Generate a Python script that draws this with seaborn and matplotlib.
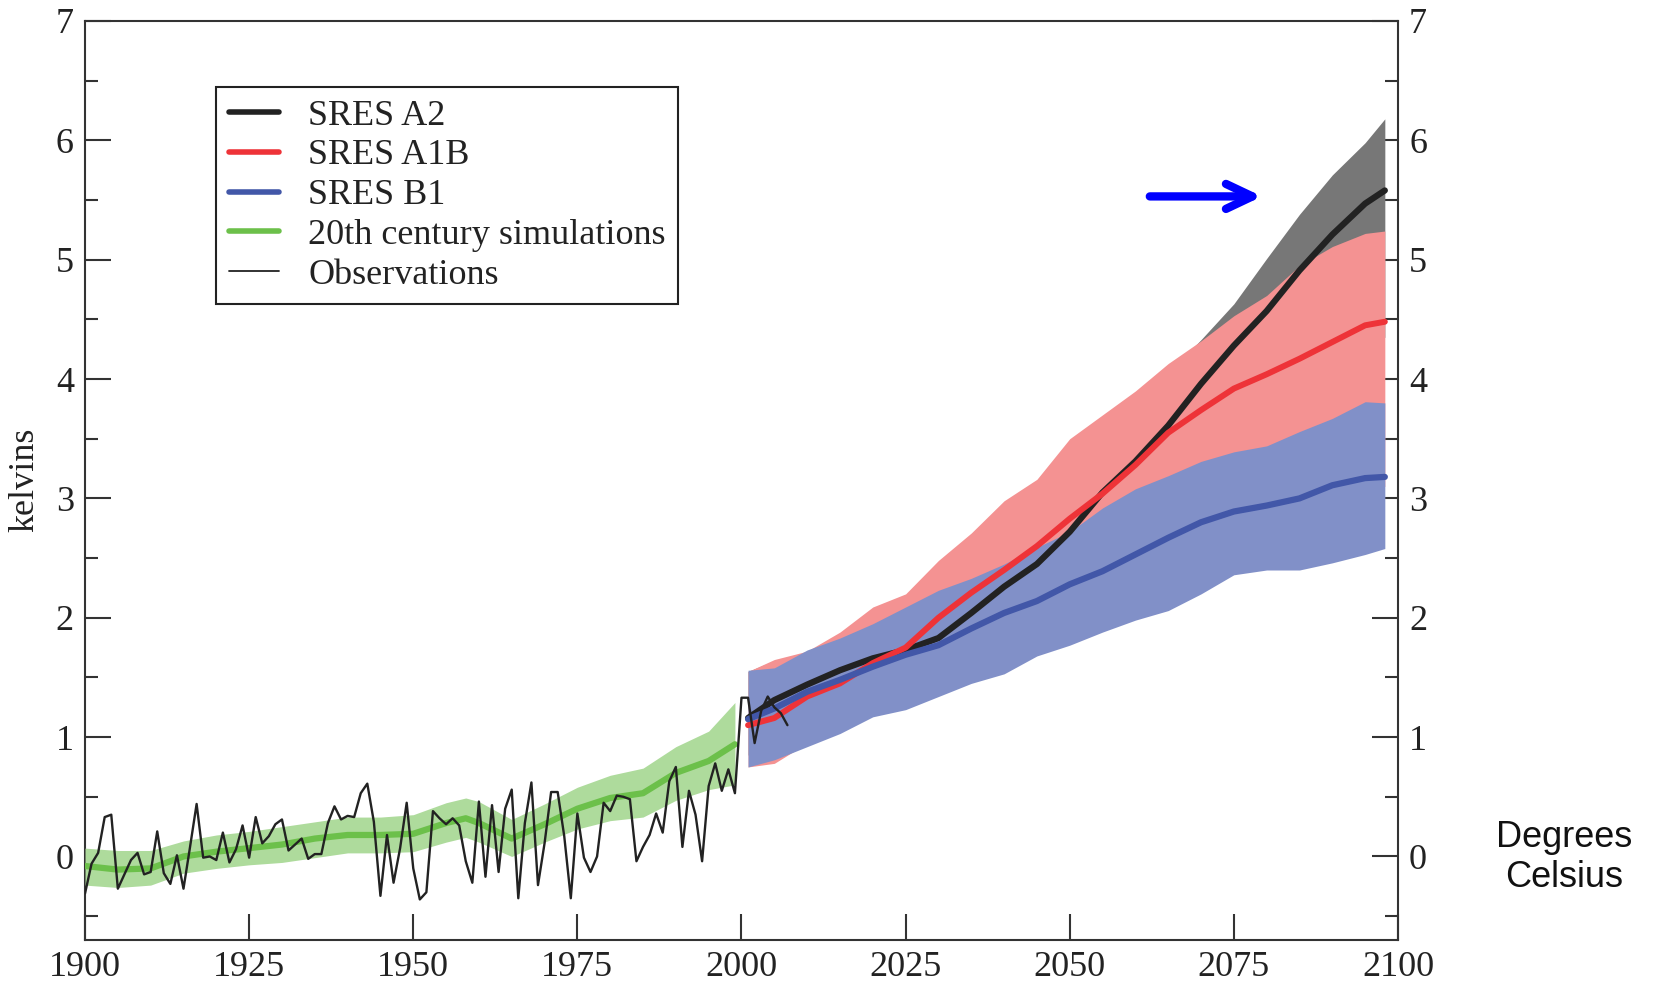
import matplotlib.pyplot as plt
import seaborn as sns
from matplotlib.lines import Line2D
from matplotlib.ticker import MultipleLocator

# observations, annual anomalies (kelvins)
obs_years = list(range(1900, 2008))
obs_values = [
    -0.31, -0.06, 0.03, 0.33, 0.35, -0.27, -0.15, -0.03, 0.03, -0.15,
    -0.13, 0.21, -0.14, -0.23, 0.01, -0.27, 0.08, 0.44, -0.01, 0.00,
    -0.03, 0.20, -0.05, 0.06, 0.26, -0.01, 0.33, 0.11, 0.17, 0.27,
    0.31, 0.05, 0.10, 0.15, -0.02, 0.02, 0.02, 0.28, 0.42, 0.31,
    0.34, 0.33, 0.53, 0.61, 0.29, -0.33, 0.18, -0.22, 0.07, 0.45,
    -0.10, -0.36, -0.30, 0.38, 0.32, 0.27, 0.32, 0.26, -0.04, -0.22,
    0.46, -0.17, 0.43, -0.13, 0.40, 0.56, -0.35, 0.28, 0.62, -0.24,
    0.11, 0.54, 0.54, 0.17, -0.35, 0.36, -0.01, -0.13, 0.00, 0.45,
    0.38, 0.51, 0.50, 0.48, -0.04, 0.08, 0.18, 0.36, 0.20, 0.63,
    0.75, 0.08, 0.55, 0.35, -0.04, 0.59, 0.78, 0.55, 0.73, 0.53,
    1.33, 1.33, 0.95, 1.22, 1.34, 1.25, 1.20, 1.10,
]

# 20th century simulations
sim_years = [1900, 1905, 1910, 1915, 1920, 1925, 1930, 1935, 1940, 1945, 1950,
             1955, 1958, 1960, 1965, 1970, 1975, 1980, 1985, 1990, 1995, 1999]
sim_mean = [-0.08, -0.11, -0.10, 0.00, 0.04, 0.07, 0.10, 0.15, 0.18, 0.18, 0.19,
            0.28, 0.32, 0.28, 0.15, 0.27, 0.40, 0.49, 0.53, 0.70, 0.80, 0.94]
sim_hi = [0.07, 0.05, 0.05, 0.13, 0.18, 0.21, 0.25, 0.29, 0.33, 0.33, 0.35,
          0.45, 0.49, 0.46, 0.31, 0.44, 0.58, 0.68, 0.74, 0.92, 1.05, 1.29]
sim_lo = [-0.24, -0.26, -0.24, -0.14, -0.10, -0.07, -0.05, -0.01, 0.03, 0.03, 0.04,
          0.12, 0.16, 0.12, 0.00, 0.12, 0.23, 0.30, 0.33, 0.47, 0.56, 0.60]

# SRES scenarios
fut_years = [2001, 2005, 2010, 2015, 2020, 2025, 2030, 2035, 2040, 2045, 2050,
             2055, 2060, 2065, 2070, 2075, 2080, 2085, 2090, 2095, 2098]
a2_mean = [1.16, 1.31, 1.44, 1.56, 1.66, 1.73, 1.83, 2.04, 2.26, 2.45, 2.72,
           3.05, 3.31, 3.61, 3.96, 4.28, 4.57, 4.91, 5.21, 5.47, 5.58]
a2_hi = [1.55, 1.64, 1.70, 1.80, 1.95, 2.10, 2.30, 2.50, 2.75, 3.00, 3.30,
         3.55, 3.80, 4.05, 4.33, 4.63, 5.01, 5.38, 5.71, 5.98, 6.18]
a2_lo = [0.85, 0.90, 1.00, 1.10, 1.20, 1.30, 1.40, 1.55, 1.70, 1.85, 2.05,
         2.30, 2.55, 2.80, 3.05, 3.30, 3.55, 3.80, 4.05, 4.25, 4.35]
a1b_mean = [1.10, 1.16, 1.34, 1.45, 1.62, 1.75, 2.00, 2.21, 2.40, 2.60, 2.83,
            3.04, 3.28, 3.55, 3.74, 3.92, 4.04, 4.17, 4.31, 4.45, 4.48]
a1b_hi = [1.55, 1.65, 1.72, 1.88, 2.09, 2.20, 2.48, 2.71, 2.98, 3.16, 3.50,
          3.70, 3.90, 4.13, 4.32, 4.53, 4.70, 4.95, 5.11, 5.22, 5.24]
a1b_lo = [0.75, 0.78, 0.95, 1.12, 1.25, 1.35, 1.50, 1.62, 1.78, 1.90, 2.05,
          2.20, 2.35, 2.50, 2.62, 2.75, 2.82, 2.90, 3.00, 3.08, 3.10]
b1_mean = [1.15, 1.24, 1.38, 1.48, 1.59, 1.69, 1.77, 1.91, 2.04, 2.14, 2.28,
           2.39, 2.53, 2.67, 2.80, 2.89, 2.94, 3.00, 3.11, 3.17, 3.18]
b1_hi = [1.56, 1.58, 1.73, 1.83, 1.95, 2.09, 2.23, 2.33, 2.45, 2.59, 2.72,
         2.92, 3.08, 3.19, 3.31, 3.39, 3.44, 3.56, 3.67, 3.81, 3.80]
b1_lo = [0.75, 0.81, 0.92, 1.03, 1.17, 1.23, 1.34, 1.45, 1.53, 1.68, 1.77,
         1.88, 1.98, 2.06, 2.20, 2.36, 2.40, 2.40, 2.46, 2.53, 2.58]

labels = ["SRES A2", "SRES A1B", "SRES B1", "20th century simulations", "Observations"]

C_A2, C_A1B, C_B1, C_SIM, C_OBS = "#222222", "#ee3338", "#4257a8", "#6cc04a", "#222222"

sns.set_theme(style="ticks")
plt.rcParams["font.family"] = ["Liberation Serif", "DejaVu Serif"]
plt.rcParams["font.size"] = 26

fig = plt.figure(figsize=(16.54, 9.84), dpi=100)
ax = fig.add_axes([0.0514, 0.0447, 0.7938, 0.934])

# uncertainty bands (opaque, stacked like the original)
ax.fill_between(fut_years, a2_lo, a2_hi, color="#777777", lw=0, zorder=1)
ax.fill_between(fut_years, a1b_lo, a1b_hi, color="#f49292", lw=0, zorder=2)
ax.fill_between(fut_years, b1_lo, b1_hi, color="#8190c8", lw=0, zorder=3)
ax.fill_between(sim_years, sim_lo, sim_hi, color="#aedb9c", lw=0, zorder=3)

sns.lineplot(x=sim_years, y=sim_mean, color=C_SIM, lw=4.5, ax=ax, zorder=4)
sns.lineplot(x=fut_years, y=a2_mean, color=C_A2, lw=4.5, ax=ax, zorder=5)
sns.lineplot(x=fut_years, y=a1b_mean, color=C_A1B, lw=4.3, ax=ax, zorder=6)
sns.lineplot(x=fut_years, y=b1_mean, color=C_B1, lw=4.5, ax=ax, zorder=7)
sns.lineplot(x=obs_years, y=obs_values, color=C_OBS, lw=1.7, ax=ax, zorder=8)

ax.annotate("", xy=(2079.3, 5.53), xytext=(2062.2, 5.53), zorder=9,
            arrowprops=dict(arrowstyle="->,head_length=0.95,head_width=0.45",
                            color="#0000ff", lw=6, shrinkA=0, shrinkB=0,
                            mutation_scale=20, capstyle="round", joinstyle="round"))

ax.set_xlim(1900, 2100)
ax.set_ylim(-0.7, 7)
ax.set_xticks(range(1900, 2101, 25))
ax.set_yticks(range(0, 8))
ax.yaxis.set_minor_locator(MultipleLocator(0.5))
ax.tick_params(which="both", direction="in", color="#333333", width=1.5, labelcolor="#222222", labelsize=26)
ax.tick_params(axis="y", which="both", left=True, right=True, labelleft=True, labelright=True, pad=8)
ax.tick_params(axis="x", top=False, pad=8)
ax.tick_params(which="major", length=19)
ax.tick_params(which="minor", length=9.5)
for s in ax.spines.values():
    s.set_color("#333333")
    s.set_linewidth(1.5)

ax.set_xlabel("")
ax.set_ylabel("kelvins", fontsize=26, color="#222222")
ax.yaxis.set_label_coords(-0.033, 0.5005)

handles = [
    Line2D([], [], color=C_A2, lw=4),
    Line2D([], [], color=C_A1B, lw=4),
    Line2D([], [], color=C_B1, lw=4),
    Line2D([], [], color=C_SIM, lw=4),
    Line2D([], [], color=C_OBS, lw=1.3),
]
leg = ax.legend(handles, labels, loc="upper left", bbox_to_anchor=(0.0998, 0.9285),
                borderaxespad=0, frameon=True, fancybox=False, framealpha=1,
                edgecolor="#222222", handlelength=1.4, handletextpad=0.8,
                labelspacing=0.18, borderpad=0.35, fontsize=26)
leg.get_frame().set_linewidth(1.5)
for t in leg.get_texts():
    t.set_color("#222222")

fig.text(1564 / 1654, 1 - 857.6 / 984, "Degrees\nCelsius", ha="center", va="center",
         family=["Liberation Sans", "DejaVu Sans"], fontsize=26, color="#111111")

fig.savefig("out.png", dpi=100)
